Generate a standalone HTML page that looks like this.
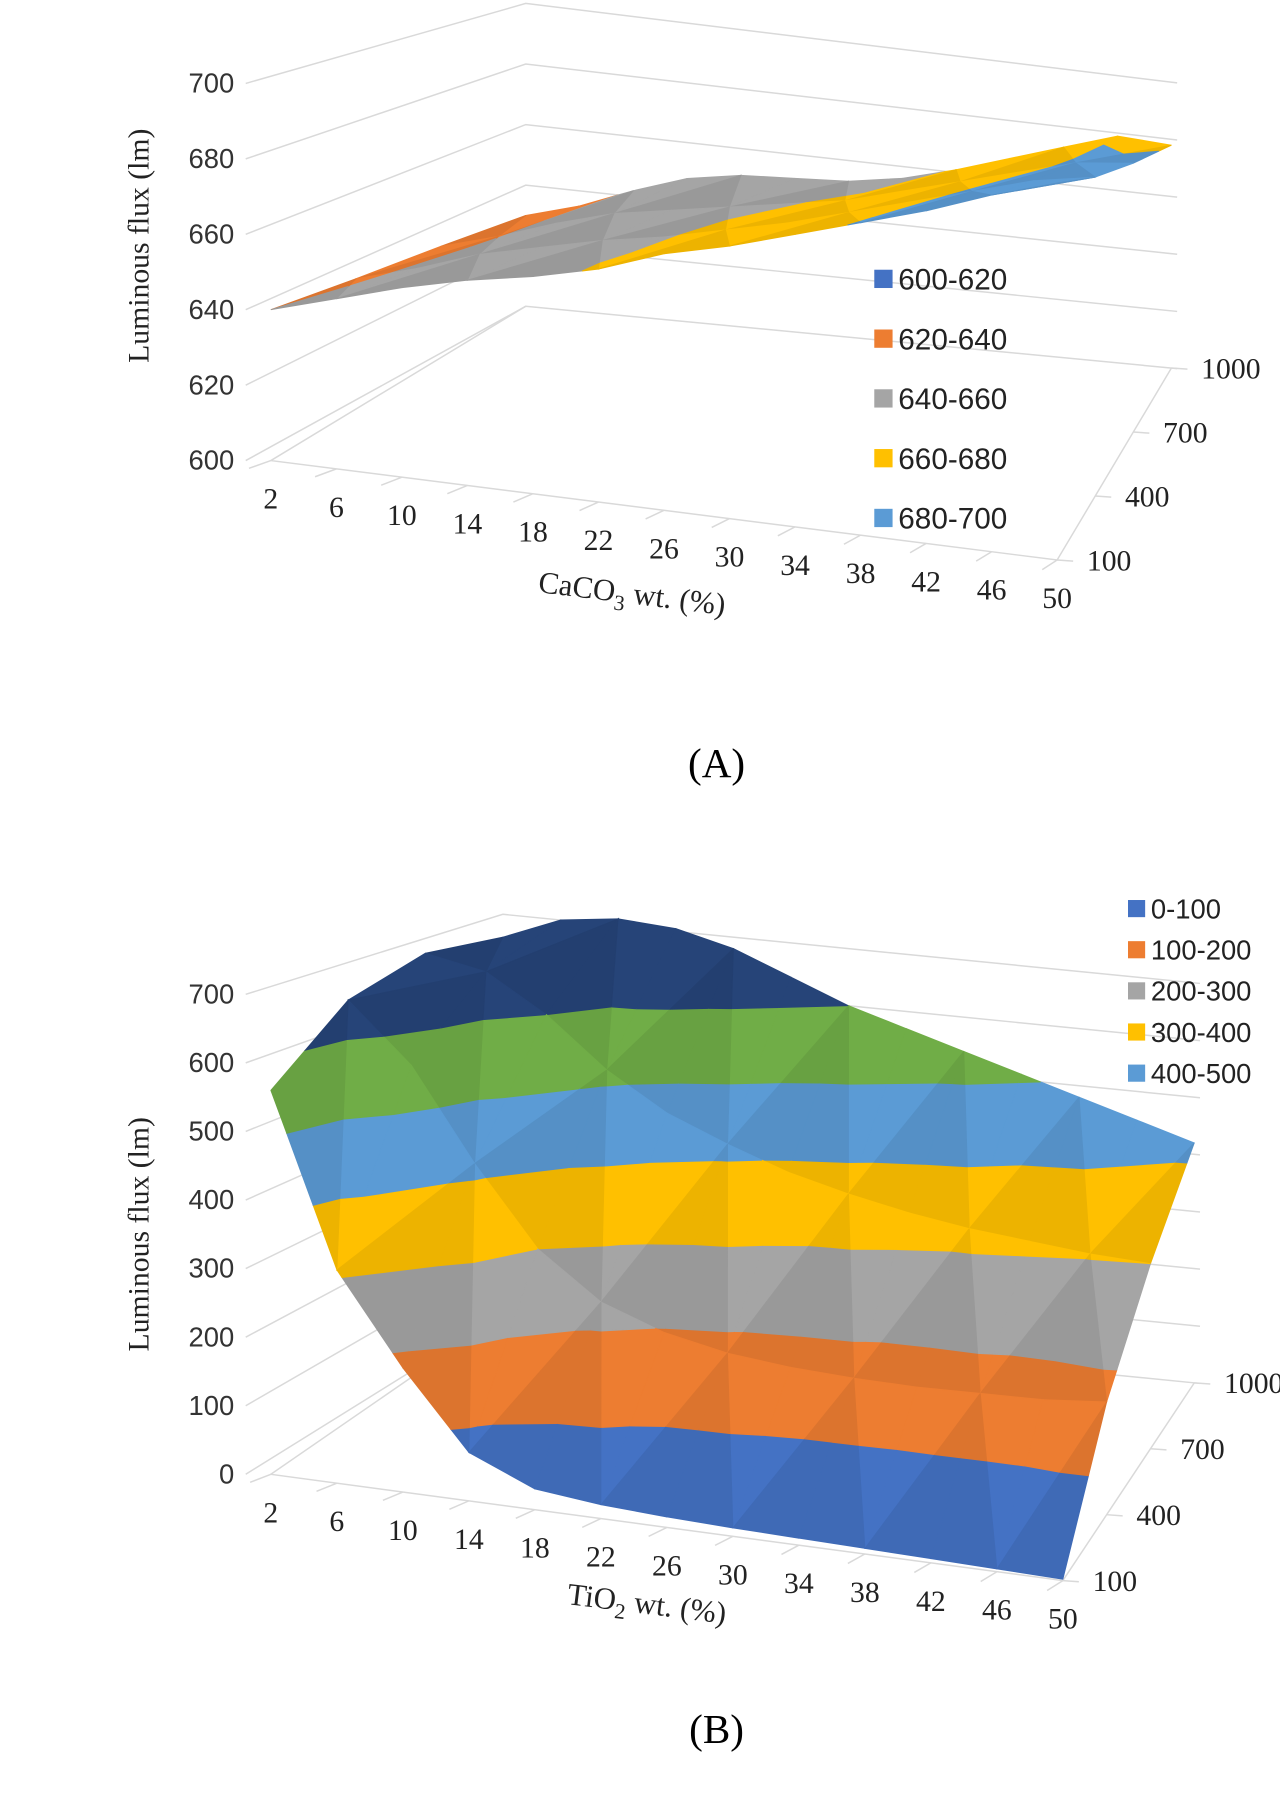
<!DOCTYPE html>
<html><head><meta charset="utf-8"><style>
html,body{margin:0;padding:0;background:#fff;}
svg{display:block;}
.sans{font-family:"Liberation Sans",sans-serif;}
.serif{font-family:"Liberation Serif",serif;}
</style></head><body>
<svg id="svg" width="1280" height="1795" viewBox="0 0 1120 1570.6" xmlns="http://www.w3.org/2000/svg">
<g id="chartA"></g>
<g id="chartB"></g>
<text class="serif" x="627" y="680" font-size="36" text-anchor="middle">(A)</text>
<text class="serif" x="627" y="1525" font-size="36" text-anchor="middle">(B)</text>
</svg>
<script>
// ---- data ----
const xCats = [2,6,10,14,18,22,26,30,34,38,42,46,50];
const depthCats = [100,400,700,1000];
const aYTicks = [600,620,640,660,680,700];
const bYTicks = [0,100,200,300,400,500,600,700];
// Chart A: rows by depth (100,400,700,1000)
const aRow100  = [640,645,650,654,657,661,667,671,676,681,686,692,697];
const aRow400  = [637,642,648,652,656,659,663,667,672,677,682,687,690];
const aRow700  = [634,639,645,650,653,656,659,662,667,672,677,682,684];
const aRow1000 = [630,635,642,648,651,652,653,656,661,667,673,679,678];
// Chart B
const bRow100  = [560,310,180,70,30,20,15,12,10,8,6,4,2];
const bRow400  = [650,560,420,300,230,195,175,165,160,158,160,162,170];
const bRow700  = [680,660,600,520,460,420,385,360,340,325,315,305,300];
const bRow1000 = [660,700,712,705,680,640,600,570,540,510,480,450,420];
const aBands = ["600-620","620-640","640-660","660-680","680-700"];
const aBandLo = [600,620,640,660,680];
const bBands = ["0-100","100-200","200-300","300-400","400-500"];
const bBandLo = [0,100,200,300,400,500,600];

const NS="http://www.w3.org/2000/svg";
function mk(tag,attrs,parent){const e=document.createElementNS(NS,tag);for(const k in attrs)e.setAttribute(k,attrs[k]);parent.appendChild(e);return e;}

function makeProj(c){
  return function(i,j,v){
    const u=i/12,w=j/3;
    const x=(1-u)*(1-w)*c.FL[0]+u*(1-w)*c.FR[0]+(1-u)*w*c.BL[0]+u*w*c.BR[0];
    const y=(1-u)*(1-w)*c.FL[1]+u*(1-w)*c.FR[1]+(1-u)*w*c.BL[1]+u*w*c.BR[1];
    const s=(1-u)*(1-w)*c.s[0]+u*(1-w)*c.s[1]+(1-u)*w*c.s[2]+u*w*c.s[3];
    return [x,y-(v-c.vmin)*s];
  };
}

function clip(poly,lo,hi){
  function cut(p,t,keepAbove){
    const out=[];
    for(let k=0;k<p.length;k++){
      const a=p[k],b=p[(k+1)%p.length];
      const ina=keepAbove?a[2]>=t:a[2]<=t, inb=keepAbove?b[2]>=t:b[2]<=t;
      if(ina)out.push(a);
      if(ina!==inb){const f=(t-a[2])/(b[2]-a[2]);out.push([a[0]+f*(b[0]-a[0]),a[1]+f*(b[1]-a[1]),t]);}
    }
    return out;
  }
  let p=cut(poly,lo,true); if(p.length<3)return p; return cut(p,hi,false);
}

function drawChart(g,c,rows,ticks,bandLo,bandColors,legendNames,legendCfg,xTitle,xSub){
  const P=makeProj(c);
  const grid=mk('g',{},g);
  
  ticks.forEach(v=>{
    const a=P(0,0,v),b=P(0,3,v),d=P(12,3,v);
    const l=mk('polyline',{points:`${a[0]-22},${a[1]} ${b[0]},${b[1]} ${d[0]+5},${d[1]+0.5}`,fill:'none',stroke:'#d9d9d9','stroke-width':1.3},grid);
    
    const t=mk('text',{x:a[0]-32,y:a[1]+8,'font-size':24,'text-anchor':'end',class:'sans',fill:'#333'},g);
    t.textContent=v;
  });
  const f0=P(0,0,c.vmin),f1=P(12,0,c.vmin),f2=P(12,3,c.vmin),f3=P(0,3,c.vmin);
  const ax=mk('polyline',{points:`${f3[0]},${f3[1]} ${f0[0]},${f0[1]} ${f1[0]},${f1[1]} ${f2[0]},${f2[1]}`,fill:'none',stroke:'#d9d9d9','stroke-width':1.3},g);
  
  xCats.forEach((v,i)=>{
    const p=P(i,0,c.vmin),q=P(i,-0.15,c.vmin);
    const tk=mk('line',{x1:p[0],y1:p[1],x2:q[0]-8,y2:q[1],stroke:'#d9d9d9','stroke-width':1.3},g);
    
    const t=mk('text',{x:p[0],y:p[1]+42,'font-size':26,'text-anchor':'middle',class:'serif',fill:'#222'},g);
    t.textContent=v;
  });
  depthCats.forEach((v,j)=>{
    const p=P(12,j,c.vmin);
    const tk=mk('line',{x1:p[0],y1:p[1],x2:p[0]+14,y2:p[1]+1,stroke:'#d9d9d9','stroke-width':1.3},g);
    
    const t=mk('text',{x:p[0]+26,y:p[1]+9,'font-size':26,'text-anchor':'start',class:'serif',fill:'#222'},g);
    t.textContent=v;
  });
  const surf=mk('g',{},g);
  
  for(let j=2;j>=0;j--){
    for(let i=0;i<12;i++){
      const pt=(ii,jj)=>{const v=rows[jj][ii];const p=P(ii,jj,v);return [p[0],p[1],v];};
      const a=pt(i,j),b=pt(i+1,j),cc=pt(i+1,j+1),d=pt(i,j+1);
      const tris=((i+j)%2===0)?[[d,cc,b],[d,b,a]]:[[d,cc,a],[a,cc,b]];
      tris.forEach((tri,ti)=>{
        bandLo.forEach((lo,k)=>{
          const hi=k<bandLo.length-1?bandLo[k+1]:1e9;
          const lo2=k===0?-1e9:lo;
          const poly=clip(tri,lo2,hi);
          if(poly.length<3)return;
          const shade=ti===0?1:0.93;
          const col=bandColors[k];
          const e=mk('polygon',{points:poly.map(p=>p[0].toFixed(1)+','+p[1].toFixed(1)).join(' '),fill:col,stroke:col,'stroke-width':0.8,style:`filter:brightness(${shade})`},surf);
          
        });
      });
    }
  }
  const yt=mk('text',{x:0,y:0,'font-size':26,'text-anchor':'middle',class:'serif',fill:'#222',transform:`translate(${c.yTitle[0]},${c.yTitle[1]}) rotate(-90)`},g);
  yt.textContent='Luminous flux (lm)';
  const xt=mk('text',{x:0,y:0,'font-size':27,'text-anchor':'middle',class:'serif',fill:'#222',transform:`translate(${c.xTitle[0]},${c.xTitle[1]}) rotate(7)`},g);
  const s1=mk('tspan',{},xt);s1.textContent=xTitle;
  const s2=mk('tspan',{dy:7,'font-size':19},xt);s2.textContent=xSub;
  const s3=mk('tspan',{dy:-7},xt);s3.textContent=' wt. (%)';
  
  const lg=mk('g',{},g);
  
  legendNames.forEach((n,k)=>{
    const y=legendCfg.y0+k*legendCfg.dy;
    const it=mk('g',{},lg);
    
    mk('rect',{x:legendCfg.x,y:y-legendCfg.sq/2,width:legendCfg.sq,height:legendCfg.sq,fill:bandColors[k]},it);
    const t=mk('text',{x:legendCfg.x+legendCfg.sq+5,y:y+legendCfg.fs*0.36,'font-size':legendCfg.fs,class:'sans',fill:'#222'},it);
    t.textContent=n;
  });
}

const colorsA=['#4472c4','#ed7d31','#a5a5a5','#ffc000','#5b9bd5'];
const colorsB=['#4472c4','#ed7d31','#a5a5a5','#ffc000','#5b9bd5','#70ad47','#264478'];
drawChart(document.getElementById('chartA'),
  {FL:[237,403],FR:[925,490],BL:[460,268],BR:[1025,322],s:[3.3,3.4,2.65,2.5],vmin:600,yTitle:[130,215],xTitle:[552,528]},
  [aRow100,aRow400,aRow700,aRow1000],aYTicks,aBandLo,colorsA,aBands,{x:765,y0:244,dy:52.3,sq:16,fs:26},'CaCO','3');
drawChart(document.getElementById('chartB'),
  {FL:[237,1290],FR:[930,1383],BL:[440,1150],BR:[1045,1210],s:[0.6,0.62,0.5,0.5],vmin:0,yTitle:[130,1080],xTitle:[565,1412]},
  [bRow100,bRow400,bRow700,bRow1000],bYTicks,bBandLo,colorsB,bBands,{x:987,y0:795,dy:36,sq:15,fs:24},'TiO','2');
</script>
</body></html>
